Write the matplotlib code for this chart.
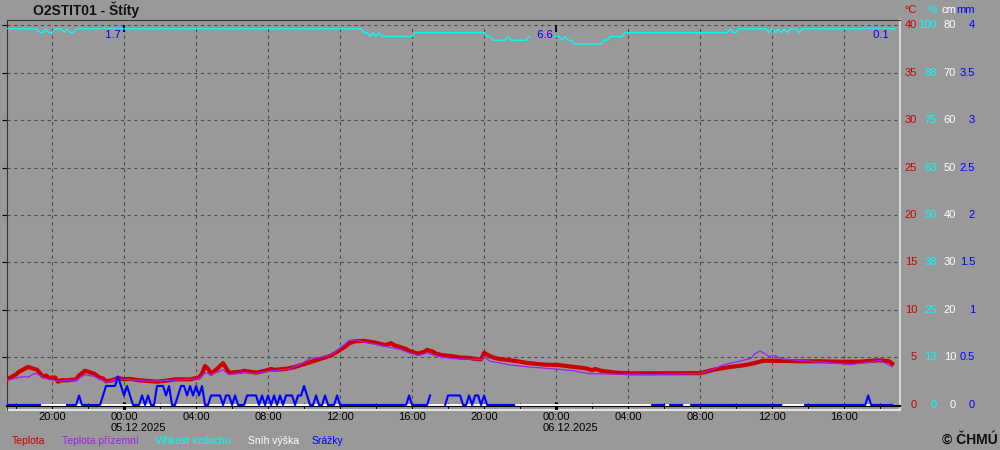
import numpy as np
import pandas as pd
import matplotlib
matplotlib.use('Agg')
import matplotlib.pyplot as plt
from matplotlib.transforms import blended_transform_factory

plt.rcParams['font.family'] = ['Liberation Sans', 'DejaVu Sans']

station = 'O2STIT01 - Štíty'
t0 = pd.Timestamp('2025-12-05 00:00')

# teplota (°C)
temp_time = [
    '04 17:30', '04 18:00', '04 18:10', '04 18:40', '04 19:00', '04 19:10', '04 19:30', '04 19:40',
    '04 19:50', '04 20:10', '04 20:20', '04 20:30', '04 20:50', '04 21:20', '04 21:30', '04 21:50',
    '04 22:10', '04 22:20', '04 22:40', '04 22:50', '04 23:00', '04 23:20', '04 23:40', '05 00:00',
    '05 00:20', '05 00:50', '05 01:30', '05 01:50', '05 02:20', '05 02:50', '05 03:40', '05 04:10',
    '05 04:20', '05 04:30', '05 04:40', '05 04:50', '05 05:10', '05 05:30', '05 05:40', '05 05:50',
    '05 06:30', '05 06:40', '05 07:00', '05 07:20', '05 07:50', '05 08:10', '05 08:20', '05 09:00',
    '05 09:30', '05 09:50', '05 10:10', '05 10:40', '05 11:00', '05 11:30', '05 11:40', '05 12:00',
    '05 12:20', '05 12:30', '05 12:50', '05 13:20', '05 14:00', '05 14:30', '05 14:50', '05 15:00',
    '05 15:20', '05 15:40', '05 15:50', '05 16:20', '05 16:40', '05 16:50', '05 17:10', '05 17:20',
    '05 17:40', '05 18:10', '05 18:40', '05 19:10', '05 19:30', '05 19:50', '05 20:00', '05 20:10',
    '05 20:30', '05 20:50', '05 21:30', '05 22:00', '05 22:30', '05 23:20', '06 00:10', '06 01:00',
    '06 01:40', '06 01:50', '06 02:00', '06 02:10', '06 02:30', '06 03:20', '06 04:10', '06 08:00',
    '06 08:20', '06 08:50', '06 09:40', '06 10:30', '06 11:00', '06 11:30', '06 12:10', '06 13:30',
    '06 14:40', '06 15:50', '06 16:50', '06 17:30', '06 18:00', '06 18:30', '06 18:40']
temp_val = [
    2.7, 3.2, 3.5, 4.0, 3.8, 3.7, 3.0, 3.1,
    2.85, 2.9, 2.45, 2.6, 2.6, 2.7, 3.1, 3.6,
    3.4, 3.3, 2.85, 2.8, 2.5, 2.6, 2.85, 2.7,
    2.75, 2.6, 2.5, 2.45, 2.55, 2.7, 2.7, 2.9,
    3.3, 4.1, 3.8, 3.3, 3.8, 4.4, 3.9, 3.4,
    3.5, 3.6, 3.5, 3.4, 3.6, 3.8, 3.7, 3.8,
    4.0, 4.2, 4.4, 4.7, 4.9, 5.2, 5.4, 5.8,
    6.2, 6.5, 6.7, 6.75, 6.55, 6.3, 6.5, 6.3,
    6.1, 5.9, 5.7, 5.4, 5.6, 5.8, 5.6, 5.4,
    5.25, 5.15, 5.0, 4.95, 4.85, 4.8, 5.5, 5.3,
    5.0, 4.85, 4.7, 4.55, 4.4, 4.25, 4.2, 4.0,
    3.85, 3.75, 3.65, 3.8, 3.6, 3.4, 3.33, 3.35,
    3.5, 3.75, 4.0, 4.2, 4.4, 4.65, 4.65, 4.6,
    4.6, 4.55, 4.55, 4.65, 4.7, 4.6, 4.35]

# teplota prizemni (°C)
ground_time = [
    '04 17:30', '04 18:10', '04 18:30', '04 18:40', '04 19:00', '04 19:10', '04 19:30', '04 19:40',
    '04 19:50', '04 20:20', '04 20:50', '04 21:20', '04 21:50', '04 22:20', '04 22:40', '04 23:00',
    '04 23:40', '05 00:00', '05 01:30', '05 03:40', '05 04:10', '05 04:30', '05 04:50', '05 05:30',
    '05 05:50', '05 06:40', '05 07:20', '05 07:50', '05 08:20', '05 09:10', '05 09:50', '05 10:20',
    '05 10:50', '05 11:30', '05 12:00', '05 12:20', '05 12:30', '05 12:50', '05 13:10', '05 14:10',
    '05 15:20', '05 15:50', '05 16:20', '05 16:40', '05 16:50', '05 17:20', '05 18:10', '05 19:50',
    '05 20:00', '05 20:20', '05 20:40', '05 21:30', '05 22:30', '06 00:10', '06 01:00', '06 01:20',
    '06 01:50', '06 03:00', '06 05:20', '06 08:00', '06 08:30', '06 09:20', '06 10:10', '06 10:50',
    '06 11:00', '06 11:20', '06 11:50', '06 12:10', '06 12:30', '06 13:30', '06 15:10', '06 16:20',
    '06 17:10', '06 18:00', '06 18:40']
ground_val = [
    2.6, 2.9, 3.0, 2.9, 3.3, 3.3, 2.9, 2.8,
    2.7, 2.5, 2.6, 2.6, 3.2, 3.0, 2.7, 2.4,
    2.75, 2.7, 2.5, 2.7, 2.8, 3.4, 3.2, 3.7,
    3.2, 3.4, 3.3, 3.5, 3.6, 3.8, 4.3, 4.9,
    5.0, 5.3, 6.0, 6.5, 6.8, 6.85, 6.7, 6.3,
    5.85, 5.5, 5.2, 5.4, 5.5, 5.15, 4.9, 4.75,
    5.1, 4.6, 4.5, 4.2, 4.0, 3.75, 3.6, 3.45,
    3.3, 3.25, 3.2, 3.3, 3.6, 4.25, 4.6, 4.9,
    5.35, 5.7, 5.1, 5.2, 4.85, 4.7, 4.45, 4.25,
    4.45, 4.7, 4.0]

# vlhkost vzduchu (%)
hum_time = [
    '04 17:30', '04 19:10', '04 19:20', '04 19:30', '04 19:40', '04 19:50', '04 20:00', '04 20:10',
    '04 20:30', '04 20:40', '04 20:50', '04 21:00', '04 21:10', '04 21:20', '05 13:10', '05 13:20',
    '05 13:30', '05 13:40', '05 13:50', '05 14:00', '05 14:10', '05 14:20', '05 16:00', '05 16:10',
    '05 20:00', '05 20:10', '05 20:20', '05 20:30', '05 21:10', '05 21:20', '05 21:30', '05 22:20',
    '05 22:30', '06 00:10', '06 00:20', '06 00:30', '06 00:40', '06 00:50', '06 01:00', '06 02:30',
    '06 02:40', '06 02:50', '06 03:00', '06 03:40', '06 03:50', '06 09:30', '06 09:40', '06 09:50',
    '06 10:00', '06 10:10', '06 11:40', '06 11:50', '06 12:00', '06 12:10', '06 12:20', '06 12:30',
    '06 12:40', '06 12:50', '06 13:00', '06 13:20', '06 13:30', '06 13:40', '06 18:50']
hum_val = [
    99, 99, 98, 98, 99, 98, 98, 99,
    99, 98, 99, 98, 98, 99, 99, 98,
    98, 97, 98, 97, 98, 97, 97, 98,
    98, 97, 97, 96, 96, 97, 96, 96,
    97, 97, 96, 97, 96, 96, 95, 95,
    96, 96, 97, 97, 98, 98, 99, 98,
    98, 99, 99, 98, 99, 98, 99, 98,
    99, 98, 99, 99, 98, 99, 99]

# snih vyska (cm)
snow_time = ['04 17:30', '06 18:40']
snow_val = [0, 0]

# srazky: desetiny mm za 10 min od 04.12. 17:30, '-' = bez dat
precip_start = '04 17:30'
precip_10min = [
    '000000000000', '--------0000', '100000001222', '232121000101',
    '002221200122', '121212001111', '011010001111', '010101010111',
    '011210010010', '001000000000', '000000000000', '0010000001--',
    '--0111110010', '110100000000', '00----------', '------------',
    '------------', '-----------0', '0000-00000--', '000000000000',
    '000000000000', '0000000-----', '--0000000000', '000000000001',
    '00000000']

# denni uhrny srazek
day_sums = ['1.7', '6.6', '0.1']
day_sum_end = ['05 00:00', '06 00:00', '06 18:40']

tick_hours = [-4, 0, 4, 8, 12, 16, 20, 24, 28, 32, 36, 40]
tick_labels = ['20:00', '00:00', '04:00', '08:00', '12:00', '16:00',
               '20:00', '00:00', '04:00', '08:00', '12:00', '16:00']
midnights = [0, 24]
dates = ['05.12.2025', '06.12.2025']

deg_labels = ['0', '5', '10', '15', '20', '25', '30', '35', '40']
pct_labels = ['0', '13', '25', '38', '50', '63', '75', '88', '100']
cm_labels = ['0', '10', '20', '30', '40', '50', '60', '70', '80']
mm_labels = ['0', '0.5', '1', '1.5', '2', '2.5', '3', '3.5', '4']


def hours(stamps):
    t = pd.to_datetime(['2025-12-' + s for s in stamps])
    return np.asarray((t - t0) / pd.Timedelta(hours=1), dtype=float)


p_str = ''.join(precip_10min)
p_val = np.array([np.nan if c == '-' else int(c) / 10 for c in p_str])
p_time = hours([precip_start])[0] + np.arange(len(p_val)) / 6.0

bg = '#999999'
c_temp = '#cc0000'
c_ground = '#a020f0'
c_hum = '#00ffff'
c_snow = '#ffffff'
c_prec = '#0000ff'

fig = plt.figure(figsize=(10, 4.5), dpi=100, facecolor=bg)
ax = fig.add_axes([0.007, 40 / 450, 0.893, 390 / 450])
ax.set_facecolor(bg)
ylo, yhi = -0.53, 40.53
ax.set_ylim(ylo, yhi)
ax.set_xlim(-6.5, 43.1)

deg_vals = [float(s) for s in deg_labels]
ax.set_yticks(deg_vals[1:])
ax.tick_params(axis='y', left=False, labelleft=False)
ax.yaxis.grid(True, color='#4d4d4d', ls=(0, (3, 3)), lw=0.8)
ax.vlines(tick_hours, 0, deg_vals[-1], color='#4d4d4d', ls=(0, (3, 3)), lw=0.8)

for s in ['top', 'left']:
    ax.spines[s].set_color('#333333')
ax.spines['right'].set_color('#e4e4e4')
ax.spines['right'].set_linewidth(1.2)
# osa x lezi tesne pod nulou, aby byla videt pod carami srazek/snehu
ax.spines['bottom'].set_position(('data', -0.12))
ax.spines['bottom'].set_color('black')
ax.spines['bottom'].set_linewidth(1.5)
ax.plot([0, 1], [0, 0], transform=ax.transAxes, color='#e4e4e4', lw=1.5, clip_on=False)

ax.set_xticks(tick_hours)
ax.set_xticklabels(tick_labels)
ax.set_xticks(np.arange(-6, 43, 2), minor=True)
ax.tick_params(axis='x', which='both', direction='inout', length=4.5, width=0.8,
               color='black', labelsize=8, pad=2, labelcolor='black')
ax.vlines(midnights, -0.53, 0.32, color='black', lw=2.2)
ax.vlines(midnights, 39.3, 40, color='black', lw=1.2)
for d, s in zip(midnights, dates):
    ax.annotate(s, xy=(d, 0), xytext=(-9.5, -16.5), textcoords='offset points',
                ha='left', va='center', fontsize=8, color='black')

ax.plot(hours(temp_time), temp_val, color=c_temp, lw=3, zorder=3)
ax.plot(hours(ground_time), ground_val, color=c_ground, lw=0.9, zorder=4)

# sekundarni osy: %, cm, mm
ax_h = ax.twinx()
ax_h.set_ylim(ylo * 100 / 40, yhi * 100 / 40)
ax_h.set_axis_off()
ax_h.plot(hours(hum_time), hum_val, color=c_hum, lw=0.9)

ax_s = ax.twinx()
ax_s.set_ylim(ylo * 80 / 40, yhi * 80 / 40)
ax_s.set_axis_off()
ax_s.plot(hours(snow_time), snow_val, color=c_snow, lw=1.4)

ax_p = ax.twinx()
ax_p.set_ylim(ylo * 4 / 40, yhi * 4 / 40)
ax_p.set_axis_off()
ax_p.plot(p_time, p_val, color=c_prec, lw=1.5)
for s, t in zip(day_sums, hours(day_sum_end)):
    ax_p.annotate('  ' + s, xy=(t, 0.9615), xycoords=ax_p.get_xaxis_transform(),
                  xytext=(-2.5, 0), textcoords='offset points', ha='right', va='center',
                  fontsize=8, color=c_prec,
                  bbox=dict(boxstyle='square,pad=0.1', fc=bg, ec='none'))

# popisky os vpravo
trans = blended_transform_factory(fig.transFigure, ax.transData)
cols = [(0.917, deg_labels, c_temp, '°C'), (0.937, pct_labels, c_hum, '%'),
        (0.956, cm_labels, c_snow, 'cm'), (0.975, mm_labels, c_prec, 'mm')]
for xr, labs, col, unit in cols:
    for y, s in zip(deg_vals, labs):
        ax.text(xr, y, s, transform=trans, ha='right', va='center', fontsize=8, color=col)
    fig.text(xr, 1 - 10 / 450, unit, ha='right', va='center', fontsize=8, color=col)

fig.text(0.033, 1 - 10 / 450, station, ha='left', va='center', fontsize=10,
         fontweight='bold', color='#111111')
fig.text(0.998, 1 - 440 / 450, '© ČHMÚ', ha='right', va='center', fontsize=10,
         fontweight='bold', color='#111111')

legend_items = [('Teplota', c_temp, 0.012), ('Teplota přízemní', c_ground, 0.062),
                ('Vlhkost vzduchu', c_hum, 0.155), ('Sníh výška', c_snow, 0.248),
                ('Srážky', c_prec, 0.312)]
for name, col, xl in legend_items:
    fig.text(xl, 1 - 441 / 450, name, ha='left', va='center', fontsize=7.5, color=col)

fig.savefig('out.png', dpi=100, facecolor=bg)
